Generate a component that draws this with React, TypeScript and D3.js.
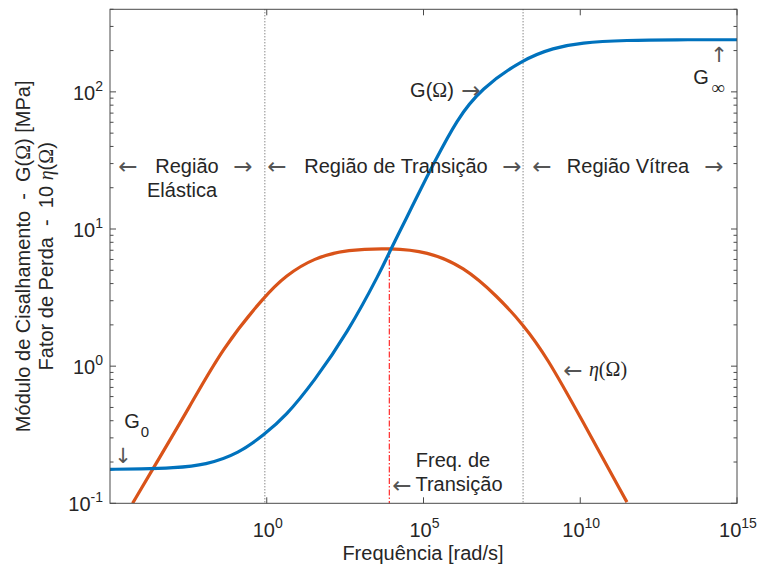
import React from 'react';
import * as d3 from 'd3';

// Shear modulus G(Ω) [MPa]
const freqG = [1e-5, 1e-4, 1e-3, 1.15e-2, 0.132, 0.813, 3.98, 32.4, 372, 4266, 8913, 3.02e4, 6.31e4, 2.14e5, 1.17e6, 6.61e6, 1.55e8, 1.41e9, 1e10, 3.09e11, 1e13, 1e15];
const valG = [0.177, 0.178, 0.181, 0.19, 0.232, 0.316, 0.43, 0.776, 1.74, 4.9, 7.08, 12.3, 17.4, 30.2, 63.1, 105, 174, 209, 229, 238, 240, 240];

// Loss factor 10·η(Ω)
const freqEta = [5.25e-5, 2.57e-4, 3.39e-3, 3.89e-2, 0.871, 3.98, 32.4, 372, 8913, 1.32e5, 1.91e6, 2.24e7, 1.55e8, 8.51e8, 1e10, 3.09e11];
const valEta = [0.1, 0.185, 0.5, 1.36, 3.26, 4.57, 6.17, 7.08, 7.26, 6.87, 5.33, 3.24, 2.0, 1.17, 0.427, 0.102];

const xTickExp = [0, 5, 10, 15];
const yTickExp = [-1, 0, 1, 2];
const regionBounds = [0.87, 1.5e8];
const transitionFreq = 8128;
const transitionEta = 7.26;

const W = 757, H = 571;
const L = 110, R = 737, T = 9.3, B = 503.3;
const TXT = '#262626';
const SANS = 'Liberation Sans, Arial, Helvetica, sans-serif';
const SERIF = 'Liberation Serif, DejaVu Serif, serif';
const ARROWF = "'DejaVu Sans', sans-serif";

export default function App() {
  const x = d3.scaleLog().domain([1e-5, 1e15]).range([L, R]);
  const y = d3.scaleLog().domain([0.1, 400]).range([B, T]);
  const gPts = freqG.map((f, i) => [x(f), y(valG[i])] as [number, number]);
  const ePts = freqEta.map((f, i) => [x(f), y(valEta[i])] as [number, number]);
  const lineXY = d3.line<[number, number]>().curve(d3.curveBasis);

  const minorY: number[] = [];
  for (let e = -1; e <= 2; e++) for (let m = 2; m <= 9; m++) { const v = m * Math.pow(10, e); if (v <= 400) minorY.push(v); }

  const arrowStyle = { fontFamily: ARROWF, fontSize: 23, fill: '#555' } as const;
  const vArrow = { fontFamily: ARROWF, fontSize: 21, fill: '#555' } as const;
  const lbl = { fontFamily: SANS, fontSize: 20, fill: TXT, whiteSpace: 'pre' } as const;
  const AY = 174;

  return (
    <svg width={W} height={H} style={{ position: 'absolute', left: 0, top: 0, background: '#fff' }}>
      <defs>
        <clipPath id="plotclip"><rect x={L} y={T} width={R - L} height={B - T} /></clipPath>
      </defs>
      <rect x={0} y={0} width={W} height={H} fill="#fff" />
      {regionBounds.map((f, i) => (
        <line key={i} x1={x(f)} x2={x(f)} y1={T} y2={B} stroke="#555" strokeWidth={1} strokeDasharray="1,2" />
      ))}
      <line x1={x(transitionFreq)} x2={x(transitionFreq)} y1={y(transitionEta)} y2={B} stroke="#ff2a2a" strokeWidth={1.2} strokeDasharray="6,2,1.5,2" />
      <g clipPath="url(#plotclip)">
        <path d={lineXY(ePts) || ''} fill="none" stroke="#D95319" strokeWidth={3.2} />
        <path d={lineXY(gPts) || ''} fill="none" stroke="#0072BD" strokeWidth={3.2} />
      </g>
      <rect x={L} y={T} width={R - L} height={B - T} fill="none" stroke="#4a4a4a" strokeWidth={1} />
      {yTickExp.map(e => {
        const yy = y(Math.pow(10, e));
        return (
          <g key={e}>
            <line x1={L} x2={L + 6} y1={yy} y2={yy} stroke="#4a4a4a" />
            <line x1={R} x2={R - 6} y1={yy} y2={yy} stroke="#4a4a4a" />
            <text x={103} y={yy + 8} textAnchor="end" style={lbl}>
              <tspan>10</tspan><tspan dy={-9} fontSize={14}>{e}</tspan>
            </text>
          </g>
        );
      })}
      {minorY.map((v, i) => (
        <g key={'m' + i}>
          <line x1={L} x2={L + 3.5} y1={y(v)} y2={y(v)} stroke="#4a4a4a" />
          <line x1={R} x2={R - 3.5} y1={y(v)} y2={y(v)} stroke="#4a4a4a" />
        </g>
      ))}
      {xTickExp.map(e => {
        const xx = x(Math.pow(10, e));
        return (
          <g key={e}>
            <line x1={xx} x2={xx} y1={B} y2={B - 6} stroke="#4a4a4a" />
            <line x1={xx} x2={xx} y1={T} y2={T + 6} stroke="#4a4a4a" />
            <text x={xx + 1} y={537} textAnchor="middle" style={lbl}>
              <tspan>10</tspan><tspan dy={-9} fontSize={14}>{e}</tspan>
            </text>
          </g>
        );
      })}
      <text x={423} y={560} textAnchor="middle" style={lbl}>Frequência [rad/s]</text>
      <g transform={`translate(30,${(T + B) / 2}) rotate(-90)`}>
        <text x={0} y={0} textAnchor="middle" style={lbl}>{'Módulo de Cisalhamento  -  G('}<tspan fontFamily={SERIF}>Ω</tspan>{') [MPa]'}</text>
        <text x={0} y={23} textAnchor="middle" style={lbl}>{'Fator de Perda  -  10 '}<tspan fontFamily={SERIF} fontStyle="italic">η</tspan>(<tspan fontFamily={SERIF}>Ω</tspan>)</text>
      </g>
      {/* region annotations */}
      <text x={128} y={AY} textAnchor="middle" style={arrowStyle}>←</text>
      <text x={187} y={173} textAnchor="middle" style={lbl}>Região</text>
      <text x={243} y={AY} textAnchor="middle" style={arrowStyle}>→</text>
      <text x={182} y={197} textAnchor="middle" style={lbl}>Elástica</text>

      <text x={277} y={AY} textAnchor="middle" style={arrowStyle}>←</text>
      <text x={396} y={173} textAnchor="middle" style={lbl}>Região de Transição</text>
      <text x={512} y={AY} textAnchor="middle" style={arrowStyle}>→</text>

      <text x={542} y={AY} textAnchor="middle" style={arrowStyle}>←</text>
      <text x={628} y={173} textAnchor="middle" style={lbl}>Região Vítrea</text>
      <text x={714} y={AY} textAnchor="middle" style={arrowStyle}>→</text>

      <text x={432} y={97} textAnchor="middle" style={lbl}>G(<tspan fontFamily={SERIF}>Ω</tspan>)</text>
      <text x={471} y={98} textAnchor="middle" style={arrowStyle}>→</text>

      <text x={719} y={62} textAnchor="middle" style={vArrow}>↑</text>
      <text x={701} y={84} textAnchor="middle" style={lbl}>G</text>
      <text x={718} y={94} textAnchor="middle" style={{ ...lbl, fontFamily: SERIF, fontSize: 19 }}>∞</text>

      <text x={132} y={428} textAnchor="middle" style={lbl}>G</text>
      <text x={145} y={437} textAnchor="middle" style={{ ...lbl, fontSize: 15 }}>0</text>
      <text x={123} y={463} textAnchor="middle" style={vArrow}>↓</text>

      <text x={573} y={378} textAnchor="middle" style={arrowStyle}>←</text>
      <text x={608} y={376} textAnchor="middle" style={{ ...lbl, fontFamily: SERIF }}><tspan fontStyle="italic">η</tspan>(Ω)</text>

      <text x={453} y={467} textAnchor="middle" style={lbl}>Freq. de</text>
      <text x={402} y={493} textAnchor="middle" style={arrowStyle}>←</text>
      <text x={459} y={491} textAnchor="middle" style={lbl}>Transição</text>
    </svg>
  );
}
